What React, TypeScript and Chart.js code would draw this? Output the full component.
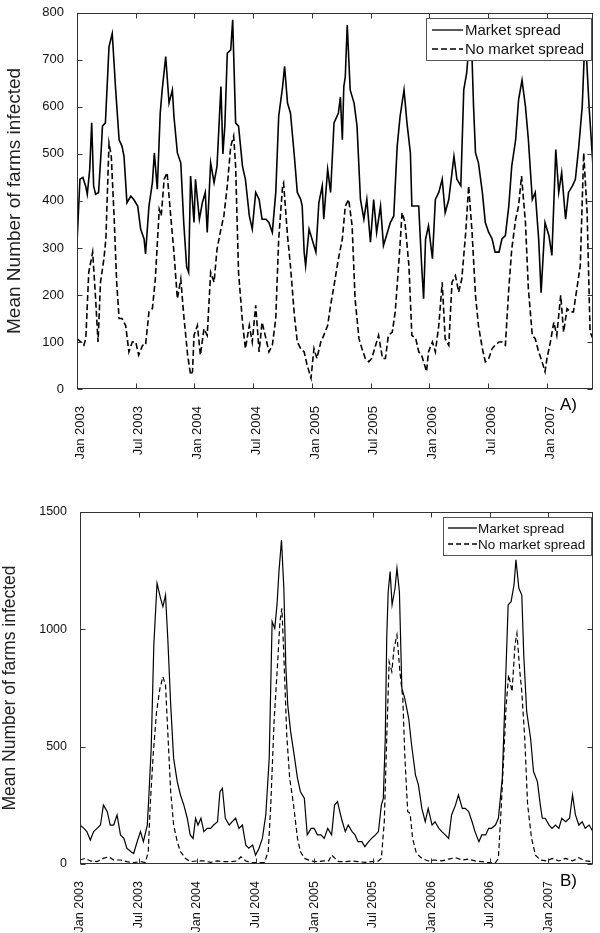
import React, { useEffect, useRef } from "react";
import { Chart, registerables } from "chart.js";
Chart.register(...registerables);

const FONT = '"Liberation Sans", Arial, Helvetica, sans-serif';

// ---- tick labels (months since Jan 2003) ----
const tickMonths = [0, 6, 12, 18, 24, 30, 36, 42, 48];
const tickLabels = ["Jan 2003", "Jul 2003", "Jan 2004", "Jul 2004", "Jan 2005", "Jul 2005", "Jan 2006", "Jul 2006", "Jan 2007"];
const seriesNames = ["Market spread", "No market spread"];

// ---- Panel A: market spread (solid) ----
const aMarketMonths = [0, 0.3, 0.6, 0.9, 1.05, 1.3, 1.5, 1.7, 1.9, 2.2, 2.45, 2.6, 2.9, 3.27, 3.6, 3.95, 4.3, 4.6, 4.8, 5.1, 5.5, 5.8, 6.2, 6.5, 6.85, 7.0, 7.35, 7.7, 7.9, 8.2, 8.5, 8.7, 9.06, 9.4, 9.74, 9.9, 10.25, 10.6, 10.9, 11.2, 11.4, 11.6, 11.95, 12.1, 12.5, 12.8, 13.1, 13.3, 13.65, 14.0, 14.3, 14.7, 14.9, 15.1, 15.35, 15.7, 15.9, 16.2, 16.5, 16.9, 17.2, 17.6, 17.9, 18.25, 18.6, 18.9, 19.3, 19.6, 19.95, 20.3, 20.6, 21.0, 21.2, 21.5, 21.8, 22.2, 22.5, 22.85, 23.0, 23.2, 23.35, 23.7, 24.0, 24.4, 24.7, 25.05, 25.2, 25.6, 25.9, 26.25, 26.7, 26.9, 27.1, 27.25, 27.4, 27.6, 27.9, 28.3, 28.6, 28.95, 29.3, 29.6, 29.97, 30.3, 30.6, 31.0, 31.3, 31.7, 32.0, 32.35, 32.7, 33.0, 33.4, 33.7, 34.05, 34.2, 34.6, 34.9, 35.2, 35.4, 35.6, 35.9, 36.3, 36.6, 36.95, 37.3, 37.6, 37.97, 38.3, 38.5, 38.8, 39.2, 39.5, 39.8, 40.1, 40.35, 40.5, 40.7, 41.0, 41.4, 41.7, 42.05, 42.4, 42.7, 43.1, 43.4, 43.75, 44.1, 44.4, 44.8, 45.1, 45.45, 45.8, 46.1, 46.5, 46.8, 47.15, 47.4, 47.8, 48.2, 48.5, 48.9, 49.2, 49.5, 49.9, 50.2, 50.6, 50.9, 51.25, 51.6, 51.9, 52.3, 52.7];
const aMarketValues = [310, 446, 450, 430, 414, 467, 566, 432, 414, 418, 500, 559, 566, 728, 756, 636, 530, 516, 495, 396, 410, 403, 389, 340, 319, 287, 389, 439, 502, 425, 587, 636, 707, 608, 636, 580, 502, 481, 354, 260, 248, 453, 354, 446, 361, 396, 418, 333, 481, 439, 474, 643, 500, 560, 714, 721, 785, 566, 559, 474, 446, 368, 340, 418, 403, 361, 361, 354, 333, 418, 580, 643, 686, 608, 587, 495, 418, 403, 389, 291, 262, 340, 319, 291, 396, 432, 361, 467, 418, 566, 587, 621, 530, 643, 664, 774, 636, 608, 559, 403, 361, 403, 312, 403, 333, 389, 305, 333, 354, 368, 516, 580, 636, 566, 502, 389, 389, 389, 262, 192, 319, 347, 277, 403, 418, 446, 375, 403, 460, 495, 446, 432, 636, 672, 750, 700, 601, 502, 481, 418, 354, 333, 319, 291, 291, 319, 326, 389, 474, 530, 615, 657, 601, 530, 403, 418, 319, 205, 354, 326, 284, 509, 418, 460, 361, 418, 432, 446, 516, 601, 760, 601, 474];

// ---- Panel A: no market spread (dashed) ----
const aNoMarketMonths = [0, 0.4, 0.7, 0.9, 1.2, 1.6, 1.9, 2.15, 2.4, 2.75, 2.95, 3.27, 3.5, 3.8, 4.05, 4.3, 4.6, 4.97, 5.3, 5.65, 6.0, 6.3, 6.7, 7.0, 7.35, 7.7, 8.0, 8.4, 8.6, 8.9, 9.2, 9.57, 9.9, 10.25, 10.6, 10.9, 11.3, 11.6, 11.8, 11.95, 12.3, 12.6, 12.97, 13.3, 13.65, 14.0, 14.3, 14.7, 15.0, 15.35, 15.7, 16.0, 16.2, 16.5, 16.9, 17.2, 17.6, 17.9, 18.25, 18.6, 18.9, 19.3, 19.6, 19.95, 20.3, 20.6, 21.0, 21.1, 21.5, 21.8, 22.2, 22.5, 22.85, 23.2, 23.5, 23.9, 24.2, 24.5, 24.9, 25.2, 25.6, 25.9, 26.25, 26.7, 27.1, 27.4, 27.75, 28.1, 28.4, 28.8, 29.1, 29.45, 29.8, 30.1, 30.5, 30.8, 31.2, 31.5, 31.8, 32.2, 32.5, 32.9, 33.2, 33.5, 33.9, 34.2, 34.6, 34.9, 35.2, 35.7, 35.9, 36.3, 36.6, 36.95, 37.3, 37.6, 37.97, 38.3, 38.65, 38.98, 39.3, 39.7, 40.0, 40.35, 40.7, 41.0, 41.4, 41.7, 42.05, 42.4, 42.7, 43.1, 43.4, 43.75, 44.1, 44.4, 44.8, 45.1, 45.4, 45.8, 46.1, 46.5, 46.8, 47.15, 47.5, 47.8, 48.0, 48.35, 48.7, 49.0, 49.4, 49.7, 50.05, 50.4, 50.7, 51.1, 51.4, 51.75, 52.1, 52.4, 52.7];
const aNoMarketValues = [107, 100, 93, 107, 248, 291, 192, 100, 227, 277, 319, 523, 495, 361, 227, 150, 150, 135, 79, 100, 100, 72, 93, 93, 164, 171, 234, 382, 368, 446, 460, 368, 291, 192, 234, 157, 72, 30, 37, 114, 135, 72, 128, 114, 248, 227, 297, 340, 368, 432, 516, 538, 474, 248, 142, 86, 135, 100, 178, 79, 142, 107, 79, 93, 150, 319, 432, 438, 326, 262, 157, 100, 86, 79, 51, 23, 86, 65, 100, 114, 135, 178, 220, 277, 319, 389, 403, 347, 192, 107, 86, 65, 58, 65, 93, 114, 65, 65, 114, 121, 164, 277, 375, 354, 262, 114, 107, 79, 72, 37, 79, 100, 79, 135, 227, 107, 93, 227, 241, 206, 234, 333, 432, 333, 199, 135, 86, 58, 65, 86, 93, 100, 100, 93, 213, 297, 361, 389, 453, 354, 213, 114, 107, 79, 58, 37, 65, 100, 142, 114, 199, 121, 171, 164, 164, 220, 262, 502, 375, 121, 107];

// ---- Panel B: market spread (solid) ----
const bMarketMonths = [0, 0.4, 0.7, 1.06, 1.4, 1.75, 2.1, 2.4, 2.8, 3.1, 3.45, 3.8, 4.15, 4.5, 4.8, 5.2, 5.5, 5.86, 6.2, 6.5, 6.9, 7.05, 7.3, 7.57, 7.9, 8.26, 8.5, 8.77, 9.0, 9.3, 9.6, 9.97, 10.3, 10.65, 11.0, 11.3, 11.6, 11.85, 12.1, 12.4, 12.7, 13.05, 13.4, 13.7, 14.1, 14.35, 14.6, 14.9, 15.3, 15.6, 15.96, 16.3, 16.65, 17.0, 17.3, 17.7, 18.0, 18.36, 18.7, 19.05, 19.4, 19.7, 19.97, 20.2, 20.4, 20.66, 20.9, 21.1, 21.3, 21.6, 21.96, 22.3, 22.6, 23.0, 23.3, 23.7, 24.0, 24.35, 24.7, 25.04, 25.4, 25.8, 26.1, 26.4, 26.8, 27.2, 27.5, 27.9, 28.2, 28.5, 28.9, 29.2, 29.6, 29.9, 30.3, 30.6, 30.9, 31.1, 31.3, 31.45, 31.6, 31.8, 32.0, 32.3, 32.5, 32.75, 33.0, 33.3, 33.7, 34.0, 34.4, 34.7, 35.05, 35.4, 35.7, 36.1, 36.4, 36.8, 37.1, 37.45, 37.8, 38.1, 38.5, 38.8, 39.2, 39.5, 39.85, 40.2, 40.5, 40.9, 41.2, 41.6, 41.9, 42.2, 42.6, 42.9, 43.3, 43.6, 43.9, 44.2, 44.5, 44.7, 45.0, 45.3, 45.5, 45.8, 46.2, 46.5, 46.9, 47.2, 47.4, 47.7, 48.1, 48.4, 48.75, 49.1, 49.4, 49.8, 50.2, 50.5, 50.8, 51.15, 51.5, 51.8, 52.2, 52.6];
const bMarketValues = [166, 152, 138, 102, 138, 152, 166, 251, 223, 166, 166, 209, 124, 109, 67, 53, 45, 95, 138, 95, 166, 280, 493, 933, 1196, 1132, 1097, 1146, 962, 678, 450, 351, 294, 251, 195, 124, 109, 195, 166, 195, 138, 152, 152, 166, 180, 308, 322, 195, 166, 180, 195, 152, 166, 81, 67, 81, 38, 67, 109, 209, 450, 1033, 1004, 1104, 1246, 1381, 1175, 848, 678, 564, 464, 365, 308, 280, 124, 152, 152, 124, 124, 109, 152, 124, 251, 266, 195, 138, 166, 138, 124, 95, 95, 74, 95, 109, 124, 138, 251, 280, 536, 962, 1160, 1246, 1104, 1175, 1260, 1160, 749, 706, 621, 507, 379, 337, 237, 180, 237, 166, 180, 152, 138, 124, 109, 209, 251, 294, 237, 237, 223, 180, 138, 95, 124, 124, 152, 152, 166, 195, 365, 734, 1104, 1118, 1189, 1296, 1175, 1146, 891, 649, 536, 394, 351, 251, 195, 195, 166, 152, 166, 152, 195, 180, 195, 294, 209, 166, 180, 152, 166, 138];

// ---- Panel B: no market spread (dashed) ----
const bNoMarketMonths = [0, 0.55, 1.06, 1.75, 2.4, 2.95, 3.45, 4.15, 4.8, 5.5, 6.2, 6.7, 7.0, 7.2, 7.5, 7.85, 8.2, 8.5, 8.77, 9.0, 9.3, 9.6, 9.97, 10.3, 10.8, 11.3, 12.0, 12.7, 13.4, 14.1, 14.8, 15.45, 16.1, 16.5, 17.0, 17.5, 18.2, 18.9, 19.3, 19.56, 19.9, 20.25, 20.5, 20.7, 20.9, 21.2, 21.5, 21.9, 22.3, 22.6, 23.0, 23.7, 24.35, 25.04, 25.5, 25.8, 26.5, 27.2, 27.9, 28.5, 29.2, 29.9, 30.6, 30.9, 31.2, 31.45, 31.7, 31.97, 32.2, 32.5, 32.8, 33.1, 33.3, 33.6, 33.85, 34.1, 34.5, 35.05, 35.7, 36.4, 37.1, 37.8, 38.5, 39.2, 39.85, 40.5, 41.2, 41.9, 42.6, 42.9, 43.2, 43.45, 43.7, 43.95, 44.3, 44.6, 44.8, 45.1, 45.3, 45.6, 45.9, 46.3, 46.7, 47.2, 47.9, 48.4, 49.1, 49.8, 50.5, 51.15, 51.8, 52.6];
const bNoMarketValues = [17, 24, 13, 10, 24, 31, 17, 17, 10, 6, 10, 6, 53, 251, 464, 649, 749, 798, 763, 564, 308, 166, 95, 53, 24, 10, 13, 13, 7, 13, 10, 10, 13, 31, 13, 6, 6, 6, 53, 251, 607, 848, 1033, 1089, 891, 550, 365, 251, 109, 53, 24, 13, 10, 13, 13, 38, 10, 10, 13, 10, 7, 10, 13, 24, 180, 536, 862, 820, 919, 976, 820, 706, 464, 223, 216, 109, 45, 24, 13, 17, 13, 21, 27, 17, 21, 13, 10, 6, 6, 24, 251, 464, 678, 806, 734, 933, 983, 820, 734, 536, 251, 109, 38, 17, 13, 24, 13, 24, 13, 27, 13, 10];

const toPoints = (xs: number[], ys: number[]) => xs.map((x, i) => ({ x, y: ys[i] }));

type PanelCfg = {
  height: number;
  padTop: number;
  axisWidth: number;
  axisHeight: number;
  xMax: number;
  yMax: number;
  yStep: number;
  tickFont: number;
  titleFont: number;
  titlePad: number;
  labelOffset: number;
  lineWidth: number;
  dash: number[];
  market: { x: number; y: number }[];
  noMarket: { x: number; y: number }[];
  legend: { font: number; w: number; h: number; row1: number; row2: number; inset: number; sample: number; gap: number };
  panel: string;
  panelDx: number;
  panelDy: number;
};

const framePlugin = {
  id: "frame",
  afterDraw(chart: any, _args: any, opts: any) {
    const cfg: PanelCfg = opts.cfg;
    const { ctx, chartArea: a } = chart;
    const xs = chart.scales.x;
    const ys = chart.scales.y;
    ctx.save();
    ctx.strokeStyle = "#333";
    ctx.lineWidth = 1;
    ctx.setLineDash([]);
    const L = Math.round(a.left) + 0.5, R = Math.round(a.right) - 0.5;
    const T = Math.round(a.top) + 0.5, B = Math.round(a.bottom) - 0.5;
    ctx.strokeRect(L, T, R - L, B - T);
    const tl = 5;
    ctx.beginPath();
    xs.ticks.forEach((t: any) => {
      const px = Math.round(xs.getPixelForValue(t.value)) + 0.5;
      ctx.moveTo(px, B); ctx.lineTo(px, B - tl);
      ctx.moveTo(px, T); ctx.lineTo(px, T + tl);
    });
    ys.ticks.forEach((t: any) => {
      const py = Math.round(ys.getPixelForValue(t.value)) + 0.5;
      ctx.moveTo(L, py); ctx.lineTo(L + tl, py);
      ctx.moveTo(R, py); ctx.lineTo(R - tl, py);
    });
    ctx.stroke();

    // legend box
    const lg = cfg.legend;
    const bx = Math.round(a.right) - 2 - lg.w;
    const by = Math.round(a.top) + 5;
    ctx.fillStyle = "#fff";
    ctx.fillRect(bx, by, lg.w, lg.h);
    ctx.strokeStyle = "#555";
    ctx.strokeRect(bx + 0.5, by + 0.5, lg.w, lg.h);
    ctx.font = `${lg.font}px ${FONT}`;
    ctx.fillStyle = "#111";
    ctx.textBaseline = "middle";
    ctx.textAlign = "left";
    const rows = [lg.row1, lg.row2];
    chart.data.datasets.forEach((ds: any, i: number) => {
      const ry = by + rows[i];
      ctx.strokeStyle = "#000";
      ctx.lineWidth = 1.3;
      ctx.setLineDash(ds.borderDash || []);
      ctx.beginPath();
      ctx.moveTo(bx + lg.inset, ry);
      ctx.lineTo(bx + lg.inset + lg.sample, ry);
      ctx.stroke();
      ctx.setLineDash([]);
      ctx.fillText(ds.label, bx + lg.inset + lg.sample + lg.gap, ry + 1);
    });

    // panel letter
    ctx.font = `17px ${FONT}`;
    ctx.textBaseline = "alphabetic";
    ctx.fillStyle = "#000";
    ctx.fillText(cfg.panel, a.right + cfg.panelDx, a.bottom + cfg.panelDy);
    ctx.restore();
  },
};

function Panel({ cfg }: { cfg: PanelCfg }) {
  const ref = useRef<HTMLCanvasElement | null>(null);
  useEffect(() => {
    if (!ref.current) return;
    const chart = new Chart(ref.current, {
      type: "line",
      data: {
        datasets: [
          { label: seriesNames[0], data: cfg.market, borderColor: "#000", borderWidth: cfg.lineWidth, pointRadius: 0, tension: 0, fill: false },
          { label: seriesNames[1], data: cfg.noMarket, borderColor: "#000", borderWidth: cfg.lineWidth, borderDash: cfg.dash, pointRadius: 0, tension: 0, fill: false },
        ],
      },
      options: {
        responsive: false,
        animation: false,
        events: [],
        layout: { padding: { top: cfg.padTop, right: 7, left: 0, bottom: 0 } },
        plugins: { legend: { display: false }, tooltip: { enabled: false }, frame: { cfg } } as any,
        scales: {
          x: {
            type: "linear",
            min: 0,
            max: cfg.xMax,
            afterBuildTicks: (s: any) => { s.ticks = tickMonths.map((v) => ({ value: v })); },
            afterFit: (s: any) => { s.height = cfg.axisHeight; },
            grid: { display: false },
            border: { display: false },
            ticks: {
              autoSkip: false,
              minRotation: 90,
              maxRotation: 90,
              padding: 9,
              labelOffset: cfg.labelOffset,
              color: "#111",
              font: { family: FONT, size: cfg.tickFont },
              callback: (_v: any, i: number) => tickLabels[i],
            },
          },
          y: {
            min: 0,
            max: cfg.yMax,
            afterFit: (s: any) => { s.width = cfg.axisWidth; },
            grid: { display: false },
            border: { display: false },
            ticks: {
              stepSize: cfg.yStep,
              padding: 5,
              color: "#111",
              font: { family: FONT, size: cfg.tickFont },
              callback: (v: any) => String(v),
            },
            title: {
              display: true,
              text: "Mean Number of farms infected",
              color: "#222",
              font: { family: FONT, size: cfg.titleFont },
              padding: { top: cfg.titlePad, bottom: 0 },
            },
          },
        },
      },
      plugins: [framePlugin],
    });
    return () => chart.destroy();
  }, [cfg]);
  return <canvas ref={ref} width={600} height={cfg.height} style={{ display: "block" }} />;
}

const cfgA: PanelCfg = {
  height: 470, padTop: 11, axisWidth: 77, axisHeight: 81, xMax: 52.7, yMax: 800, yStep: 100,
  tickFont: 13, titleFont: 19, titlePad: 3, labelOffset: 3, lineWidth: 1.6, dash: [6, 3],
  market: toPoints(aMarketMonths, aMarketValues), noMarket: toPoints(aNoMarketMonths, aNoMarketValues),
  legend: { font: 15, w: 165, h: 42, row1: 12, row2: 31, inset: 6, sample: 31, gap: 2 },
  panel: "A)", panelDx: -33, panelDy: 21,
};

const cfgB: PanelCfg = {
  height: 463, padTop: 42, axisWidth: 80, axisHeight: 69, xMax: 52.6, yMax: 1500, yStep: 500,
  tickFont: 12.5, titleFont: 17.5, titlePad: 0, labelOffset: 0, lineWidth: 1.2, dash: [5, 3],
  market: toPoints(bMarketMonths, bMarketValues), noMarket: toPoints(bNoMarketMonths, bNoMarketValues),
  legend: { font: 13.5, w: 148, h: 38, row1: 11, row2: 27, inset: 5, sample: 29, gap: 1 },
  panel: "B)", panelDx: -33, panelDy: 22,
};

export default function App() {
  return (
    <div style={{ position: "absolute", left: 0, top: 0, width: 600, height: 933, background: "#fff" }}>
      <div style={{ position: "absolute", left: 0, top: 0 }}>
        <Panel cfg={cfgA} />
      </div>
      <div style={{ position: "absolute", left: 0, top: 470 }}>
        <Panel cfg={cfgB} />
      </div>
    </div>
  );
}
